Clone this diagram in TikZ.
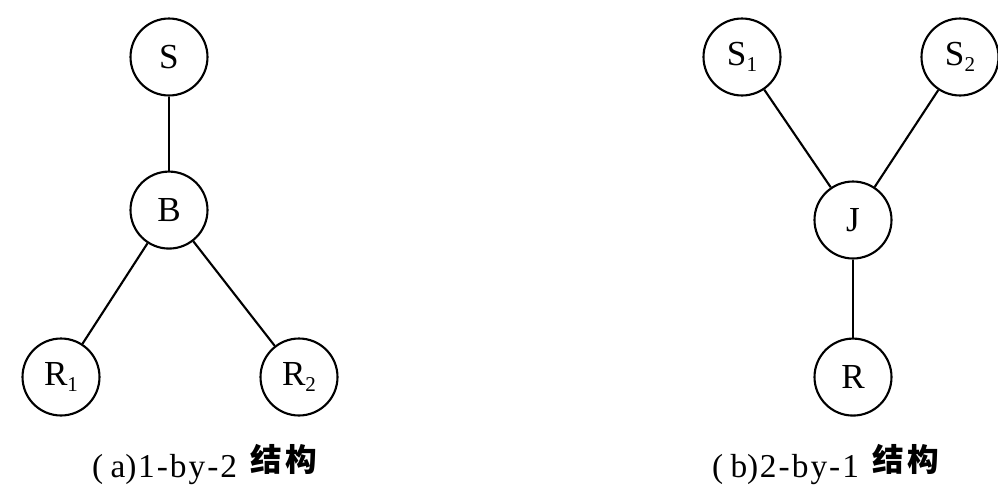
\documentclass[tikz,border=0pt]{standalone}
\usepackage{fontspec}
\setmainfont{Liberation Serif}
\newfontfamily\cjk{Noto Sans CJK SC}
\usepackage{tikz}
\usetikzlibrary{positioning}

% small lowered index, as in R1, S2
\newcommand{\lowidx}[1]{\raisebox{-0.4ex}{\fontsize{12}{13}\selectfont #1}}
% caption: label, then the raised Chinese word
\newcommand{\figcap}[2]{(\hspace{0.22em}#1)\hspace{0.05em}%
  {\addfontfeature{LetterSpace=6}#2}\hspace{0.4em}%
  \raisebox{3pt}{\cjk\bfseries\fontsize{18}{19}\selectfont 结\hspace{0.1em}构}}

\begin{document}
\begin{tikzpicture}[x=0.02cm,y=-0.02cm,line width=1.2pt,
      node style/.style={circle,draw=black,line width=1.2pt,minimum size=1.54cm,
        inner sep=0pt,font=\fontsize{20}{22}\selectfont},
      cap style/.style={anchor=base west,inner sep=0pt,
        font=\fontsize{19}{21}\selectfont}
      ]
      \useasboundingbox (0,0) rectangle (998,487);

      % (a) one source, one branch, two receivers
      \node[node style] (src) at (169,57) {S};
      \node[node style,below=1.48cm of src] (branch) {B};
      \node[node style] (recvA) at (61,377) {R\lowidx{1}};
      \node[node style] (recvB) at (299,377) {R\lowidx{2}};

      \draw (src) -- (branch);
      \draw (branch) -- (recvA);
      \draw (branch) -- (recvB);

      \node[cap style] (capA) at (91,477) {\figcap{a}{1-by-2}};

      % (b) two sources, one join, one receiver
      \node[node style] (srcA) at (742,57) {S\lowidx{1}};
      \node[node style] (srcB) at (960,57) {S\lowidx{2}};
      \node[node style] (join) at (853,220) {J};
      \node[node style,below=1.56cm of join] (recv) {R};

      \draw (srcA) -- (join);
      \draw (srcB) -- (join);
      \draw (join) -- (recv);

      \node[cap style] (capB) at (711,477) {\figcap{b}{2-by-1}};

    \end{tikzpicture}
\end{document}
